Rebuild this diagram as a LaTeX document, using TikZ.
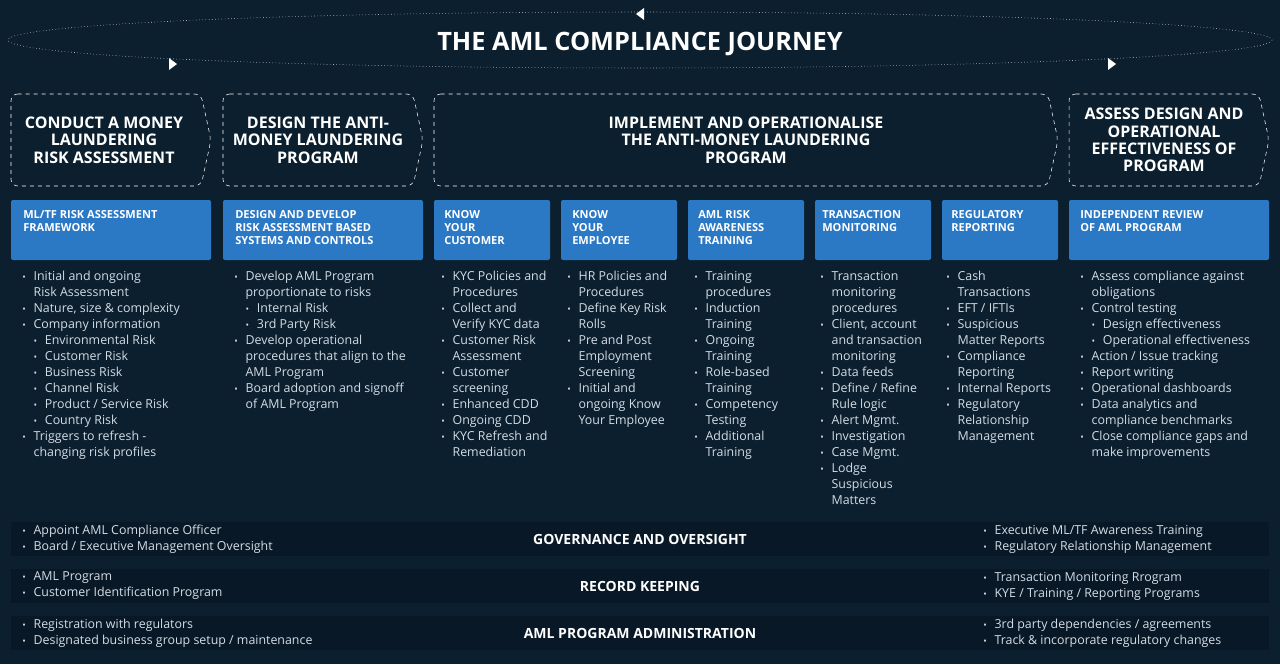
\documentclass[tikz,border=0pt]{standalone}
\usepackage{fontspec}
\setmainfont{Open Sans}
\usetikzlibrary{arrows.meta, positioning, shapes.geometric}
\definecolor{bgnavy}{HTML}{0B1F2E}
\definecolor{barnavy}{HTML}{081826}
\definecolor{boxblue}{HTML}{2B78C5}
\definecolor{txtgray}{HTML}{D4DCE4}
\def\bt{\makebox[8.5pt][l]{\scriptsize\textbullet}}
\def\ct{\hspace*{8.5pt}}
\tikzset{
  stagebox/.style={draw=white!75, dashed, thin},
  stagetxt/.style={text=white, font=\fontsize{12}{13}\selectfont\bfseries, align=center},
  bluebox/.style={text=white, anchor=north west,
    font=\fontsize{8.3}{10}\selectfont\bfseries, align=left, inner sep=0pt},
  listtxt/.style={text=txtgray, anchor=north west, font=\fontsize{9.3}{12}\selectfont, align=left, inner sep=0pt},
  bartitle/.style={text=white, font=\fontsize{10.5}{12}\selectfont\bfseries}
}
\begin{document}
\begin{tikzpicture}[x=0.75pt,y=-0.75pt]
\fill[bgnavy] (0,0) rectangle (1280,664);
\useasboundingbox (0,0) rectangle (1280,664);
% journey loop
\draw[white!70, dotted] (640,40) ellipse [x radius=632, y radius=28];
\fill[white] (636,14) -- (644,8) -- (644,20) -- cycle;
\fill[white] (177,64) -- (169,58) -- (169,70) -- cycle;
\fill[white] (1116,64) -- (1108,58) -- (1108,70) -- cycle;
\node[text=white, font=\fontsize{19}{20}\selectfont\bfseries, fill=bgnavy, inner xsep=4pt] (title) at (640,44) {THE AML COMPLIANCE JOURNEY};
% stages
\draw[stagebox, rounded corners=5pt] (11,94) -- (201,94) -- (211,140) -- (201,186) -- (11,186) -- cycle;
\draw[stagebox, rounded corners=5pt] (223,94) -- (413,94) -- (423,140) -- (413,186) -- (223,186) -- cycle;
\draw[stagebox, rounded corners=5pt] (434,94) -- (1048,94) -- (1058,140) -- (1048,186) -- (434,186) -- cycle;
\draw[stagebox, rounded corners=5pt] (1069,94) -- (1259,94) -- (1269,140) -- (1259,186) -- (1069,186) -- cycle;
\node[stagetxt] (s1) at (104,140) {CONDUCT A MONEY\\LAUNDERING\\RISK ASSESSMENT};
\node[stagetxt] (s2) at (318,140) {DESIGN THE ANTI-\\MONEY LAUNDERING\\PROGRAM};
\node[stagetxt] (s3) at (746,140) {IMPLEMENT AND OPERATIONALISE\\THE ANTI-MONEY LAUNDERING\\PROGRAM};
\node[stagetxt] (s4) at (1164,140) {ASSESS DESIGN AND\\OPERATIONAL\\EFFECTIVENESS OF\\PROGRAM};
% blue headers
\foreach \x/\w in {11/200, 223/200, 434/116, 561/116, 688/116, 815/116, 942/116, 1069/200}
  \fill[boxblue, rounded corners=1.5pt] (\x,200) rectangle ++(\w,60);
\node[bluebox] (b1) at (23,210) {ML/TF RISK ASSESSMENT\\FRAMEWORK};
\node[bluebox] (b2) at (235,210) {DESIGN AND DEVELOP\\RISK ASSESSMENT BASED\\SYSTEMS AND CONTROLS};
\node[bluebox] (b3) at (444,210) {KNOW\\YOUR\\CUSTOMER};
\node[bluebox] (b4) at (572,210) {KNOW\\YOUR\\EMPLOYEE};
\node[bluebox] (b5) at (698,210) {AML RISK\\AWARENESS\\TRAINING};
\node[bluebox] (b6) at (822,210) {TRANSACTION\\MONITORING};
\node[bluebox] (b7) at (951,210) {REGULATORY\\REPORTING};
\node[bluebox] (b8) at (1080,210) {INDEPENDENT REVIEW\\OF AML PROGRAM};
% lists
\node[listtxt] (l1) at (22,271) {\bt Initial and ongoing\\\ct Risk Assessment\\\bt Nature, size \& complexity\\\bt Company information\\\ct\bt Environmental Risk\\\ct\bt Customer Risk\\\ct\bt Business Risk\\\ct\bt Channel Risk\\\ct\bt Product / Service Risk\\\ct\bt Country Risk\\\bt Triggers to refresh -\\\ct changing risk profiles};
\node[listtxt] (l2) at (234,271) {\bt Develop AML Program\\\ct proportionate to risks\\\ct\bt Internal Risk\\\ct\bt 3rd Party Risk\\\bt Develop operational\\\ct procedures that align to the\\\ct AML Program\\\bt Board adoption and signoff\\\ct of AML Program};
\node[listtxt] (l3) at (441,271) {\bt KYC Policies and\\\ct Procedures\\\bt Collect and\\\ct Verify KYC data\\\bt Customer Risk\\\ct Assessment\\\bt Customer\\\ct screening\\\bt Enhanced CDD\\\bt Ongoing CDD\\\bt KYC Refresh and\\\ct Remediation};
\node[listtxt] (l4) at (567,271) {\bt HR Policies and\\\ct Procedures\\\bt Define Key Risk\\\ct Rolls\\\bt Pre and Post\\\ct Employment\\\ct Screening\\\bt Initial and\\\ct ongoing Know\\\ct Your Employee};
\node[listtxt] (l5) at (694,271) {\bt Training\\\ct procedures\\\bt Induction\\\ct Training\\\bt Ongoing\\\ct Training\\\bt Role-based\\\ct Training\\\bt Competency\\\ct Testing\\\bt Additional\\\ct Training};
\node[listtxt] (l6) at (820,271) {\bt Transaction\\\ct monitoring\\\ct procedures\\\bt Client, account\\\ct and transaction\\\ct monitoring\\\bt Data feeds\\\bt Define / Refine\\\ct Rule logic\\\bt Alert Mgmt.\\\bt Investigation\\\bt Case Mgmt.\\\bt Lodge\\\ct Suspicious\\\ct Matters};
\node[listtxt] (l7) at (946,271) {\bt Cash\\\ct Transactions\\\bt EFT / IFTIs\\\bt Suspicious\\\ct Matter Reports\\\bt Compliance\\\ct Reporting\\\bt Internal Reports\\\bt Regulatory\\\ct Relationship\\\ct Management};
\node[listtxt] (l8) at (1080,271) {\bt Assess compliance against\\\ct obligations\\\bt Control testing\\\ct\bt Design effectiveness\\\ct\bt Operational effectiveness\\\bt Action / Issue tracking\\\bt Report writing\\\bt Operational dashboards\\\bt Data analytics and\\\ct compliance benchmarks\\\bt Close compliance gaps and\\\ct make improvements};
% bottom bars
\foreach \y in {522, 569, 616}
  \fill[barnavy] (11,\y) rectangle (1269,\y+34);
\node[bartitle] (gc) at (640,539) {GOVERNANCE AND OVERSIGHT};
\node[listtxt, anchor=west] (gl) at (22,539) {\bt Appoint AML Compliance Officer\\\bt Board / Executive Management Oversight};
\node[listtxt, anchor=west] (gr) at (983,539) {\bt Executive ML/TF Awareness Training\\\bt Regulatory Relationship Management};
\node[bartitle] (rc) at (640,586) {RECORD KEEPING};
\node[listtxt, anchor=west] (rl) at (22,586) {\bt AML Program\\\bt Customer Identification Program};
\node[listtxt, anchor=west] (rr) at (983,586) {\bt Transaction Monitoring Rrogram\\\bt KYE / Training / Reporting Programs};
\node[bartitle] (ac) at (640,633) {AML PROGRAM ADMINISTRATION};
\node[listtxt, anchor=west] (al) at (22,633) {\bt Registration with regulators\\\bt Designated business group setup / maintenance};
\node[listtxt, anchor=west] (ar) at (983,633) {\bt 3rd party dependencies / agreements\\\bt Track \& incorporate regulatory changes};
\end{tikzpicture}
\end{document}
